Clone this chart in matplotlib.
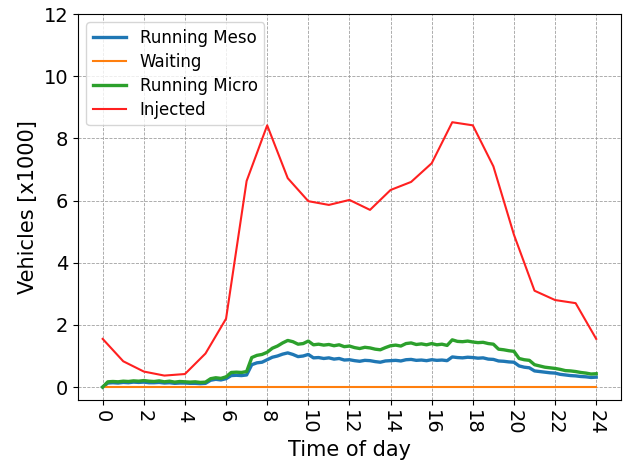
import matplotlib
matplotlib.use("Agg")
import matplotlib.pyplot as plt
import numpy as np

# hourly injected vehicles [x1000]
inj_hours = list(range(25))
injected = [1.55, 0.83, 0.50, 0.37, 0.42, 1.08, 2.20, 6.63, 8.42, 6.72, 5.98, 5.86, 6.02,
            5.70, 6.34, 6.60, 7.20, 8.52, 8.42, 7.10, 4.90, 3.10, 2.80, 2.70, 1.55]

# quarter-hour samples of running vehicles [x1000]
q_hours = np.arange(0, 24.01, 0.25)
running_micro = [0.00, 0.17, 0.18, 0.17, 0.19, 0.18, 0.20, 0.19, 0.21, 0.19, 0.18, 0.20,
                 0.17, 0.19, 0.16, 0.18, 0.17, 0.16, 0.17, 0.15, 0.16, 0.27, 0.30, 0.28,
                 0.33, 0.47, 0.48, 0.47, 0.50, 0.95, 1.02, 1.05, 1.12, 1.25, 1.32, 1.42,
                 1.50, 1.46, 1.38, 1.40, 1.48, 1.36, 1.38, 1.35, 1.37, 1.33, 1.36, 1.30,
                 1.32, 1.27, 1.24, 1.28, 1.26, 1.22, 1.20, 1.27, 1.33, 1.35, 1.32, 1.40,
                 1.42, 1.37, 1.39, 1.36, 1.40, 1.36, 1.38, 1.34, 1.52, 1.47, 1.46, 1.48,
                 1.45, 1.43, 1.44, 1.40, 1.38, 1.22, 1.20, 1.17, 1.15, 0.92, 0.88, 0.86,
                 0.72, 0.68, 0.64, 0.62, 0.60, 0.57, 0.53, 0.52, 0.50, 0.47, 0.45, 0.42,
                 0.43]
running_meso = [0.00, 0.13, 0.14, 0.13, 0.15, 0.14, 0.16, 0.15, 0.16, 0.14, 0.14, 0.15,
                0.13, 0.14, 0.12, 0.13, 0.13, 0.12, 0.12, 0.11, 0.12, 0.22, 0.25, 0.23,
                0.27, 0.37, 0.38, 0.37, 0.39, 0.72, 0.78, 0.80, 0.88, 0.96, 1.00, 1.06,
                1.10, 1.05, 0.98, 1.00, 1.05, 0.94, 0.95, 0.92, 0.94, 0.90, 0.92, 0.87,
                0.88, 0.85, 0.83, 0.86, 0.85, 0.82, 0.80, 0.84, 0.85, 0.86, 0.84, 0.88,
                0.89, 0.86, 0.87, 0.85, 0.88, 0.86, 0.87, 0.85, 0.97, 0.95, 0.94, 0.96,
                0.95, 0.93, 0.94, 0.90, 0.89, 0.84, 0.83, 0.81, 0.80, 0.68, 0.64, 0.62,
                0.52, 0.50, 0.48, 0.46, 0.45, 0.41, 0.39, 0.37, 0.36, 0.34, 0.33, 0.31,
                0.32]
waiting = [0.0] * len(q_hours)

fig, ax = plt.subplots(figsize=(6.24, 4.68), dpi=100)
ax.plot(q_hours, running_meso, color='tab:blue', lw=2.4, label='Running Meso')
ax.plot(q_hours, waiting, color='tab:orange', lw=1.5, label='Waiting')
ax.plot(q_hours, running_micro, color='tab:green', lw=2.4, label='Running Micro')
ax.plot(inj_hours, injected, color='#ff2020', lw=1.5, label='Injected')

ax.set_xticks(range(0, 25, 2))
ax.set_ylim(-0.42, 12)
ax.set_yticks(range(0, 13, 2))
ax.tick_params(axis='x', labelsize=14, labelrotation=270)
ax.tick_params(axis='y', labelsize=14)
ax.set_xlabel('Time of day', fontsize=15)
ax.set_ylabel('Vehicles [x1000]', fontsize=15)
ax.grid(True, color='#a0a0a0', linestyle='--', linewidth=0.6)
ax.legend(loc='upper left', fontsize=12, labelspacing=0.35)

fig.subplots_adjust(left=0.125, right=0.995, top=0.970, bottom=0.145)
plt.savefig('out.png')
